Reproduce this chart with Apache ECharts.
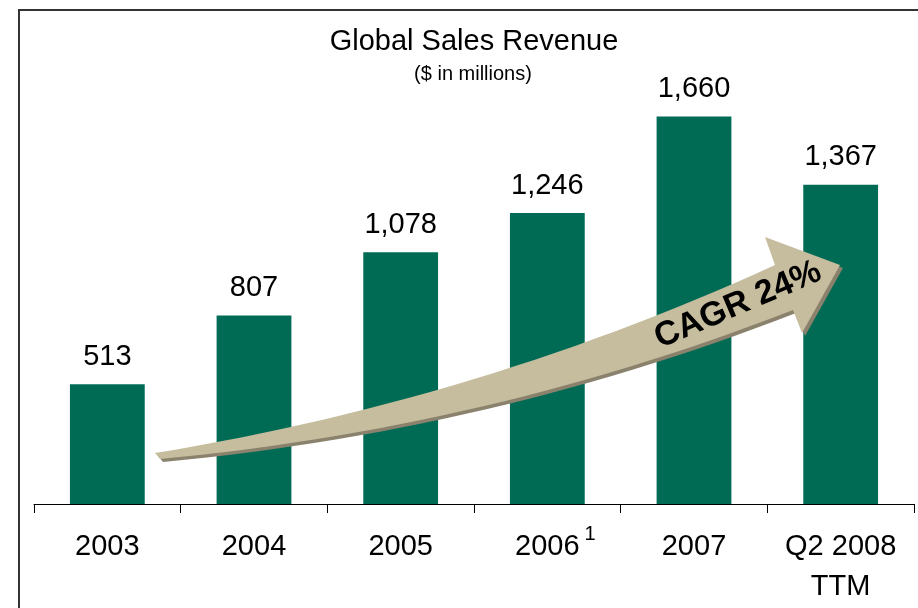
<!DOCTYPE html>
<html>
<head>
<meta charset="utf-8">
<title>Global Sales Revenue</title>
<script src="https://cdn.jsdelivr.net/npm/echarts@6/dist/echarts.min.js"></script>
<style>
  html, body { margin: 0; padding: 0; background: #fff; }
  #chart { width: 918px; height: 608px; }
</style>
</head>
<body>
<div id="chart"></div>
<script>
// data
var categories = ['2003', '2004', '2005', '2006', '2007', 'Q2 2008\nTTM']
var revenue = [513, 807, 1078, 1246, 1660, 1367]
var footnoted = { '2006': '1' }
var titleText = 'Global Sales Revenue'
var subText = '($ in millions)'
var cagrText = 'CAGR 24%'

var FONT = '"Liberation Sans", Arial, sans-serif'
var GREEN = '#006B55'

var chart = echarts.init(document.getElementById('chart'))

// curved growth arrow (decoration only), sampled quadratic edges
function quad (p0, c, p2, n) {
  var pts = []
  for (var i = 0; i <= n; i++) {
    var t = i / n
    var a = (1 - t) * (1 - t)
    var b = 2 * t * (1 - t)
    var d = t * t
    pts.push([a * p0[0] + b * c[0] + d * p2[0], a * p0[1] + b * c[1] + d * p2[1]])
  }
  return pts
}
var arrowPts = quad([155, 453], [480, 400], [775, 265], 30)
  .concat([[765, 237], [840, 265], [802, 333]])
  .concat(quad([793, 310], [490, 428], [160, 459], 30))

var option = {
  animation: false,
  backgroundColor: '#fff',
  title: [{
    text: titleText,
    left: 474,
    top: 27,
    padding: 0,
    textAlign: 'center',
    textStyle: { fontFamily: FONT, fontSize: 29, fontWeight: 'normal', color: '#000' }
  }, {
    text: subText,
    left: 473,
    top: 64,
    padding: 0,
    textAlign: 'center',
    textStyle: { fontFamily: FONT, fontSize: 20, fontWeight: 'normal', color: '#000' }
  }],
  grid: {
    left: 34,
    right: 4,
    top: 37,
    bottom: 104,
    containLabel: false
  },
  xAxis: {
    type: 'category',
    data: categories,
    boundaryGap: true,
    axisLine: { lineStyle: { color: '#000', width: 1 } },
    axisTick: { show: true, interval: 0, length: 9, lineStyle: { color: '#000' } },
    axisLabel: {
      interval: 0,
      margin: 20,
      color: '#000',
      fontFamily: FONT,
      fontSize: 29,
      formatter: function (v) {
        var lines = v.split('\n')
        var first = footnoted[lines[0]]
          ? '{c|' + lines[0] + '}{s|' + footnoted[lines[0]] + '}'
          : '{a|' + lines[0] + '}'
        var rest = lines.slice(1).map(function (l) { return '{b|' + l + '}' })
        return [first].concat(rest).join('\n')
      },
      rich: {
        a: { fontFamily: FONT, fontSize: 29, lineHeight: 40, color: '#000', padding: [6, 0, 0, 0] },
        c: { fontFamily: FONT, fontSize: 29, lineHeight: 40, color: '#000', padding: [6, 0, 0, 16] },
        b: { fontFamily: FONT, fontSize: 29, lineHeight: 40, color: '#000', padding: [6, 0, 0, 0] },
        s: { fontFamily: FONT, fontSize: 20, color: '#000', verticalAlign: 'top', padding: [0, 0, 0, 5] }
      }
    }
  },
  yAxis: {
    type: 'value',
    min: 0,
    max: 2000,
    show: false,
    splitLine: { show: false }
  },
  series: [{
    type: 'bar',
    data: revenue,
    barWidth: '51%',
    itemStyle: { color: GREEN },
    label: {
      show: true,
      position: 'top',
      distance: 13,
      color: '#000',
      fontFamily: FONT,
      fontSize: 29,
      formatter: function (p) {
        return p.value.toLocaleString('en-US')
      }
    }
  }],
  graphic: [{
    type: 'rect',
    z: 1,
    shape: { x: 19, y: 10, width: 920, height: 620 },
    style: { fill: 'none', stroke: '#333', lineWidth: 2 }
  }, {
    type: 'polygon',
    z: 100,
    x: 3,
    y: 3,
    shape: { points: arrowPts },
    style: { fill: '#8A826C' }
  }, {
    type: 'polygon',
    z: 101,
    shape: { points: arrowPts },
    style: { fill: '#C6BD9F' }
  }, {
    type: 'text',
    z: 102,
    x: 738,
    y: 305,
    rotation: 23 * Math.PI / 180,
    style: {
      text: cagrText,
      fontFamily: FONT,
      fontSize: 34,
      fontWeight: 'bold',
      fill: '#000',
      align: 'center',
      verticalAlign: 'middle'
    }
  }]
}

chart.setOption(option)
</script>
</body>
</html>
